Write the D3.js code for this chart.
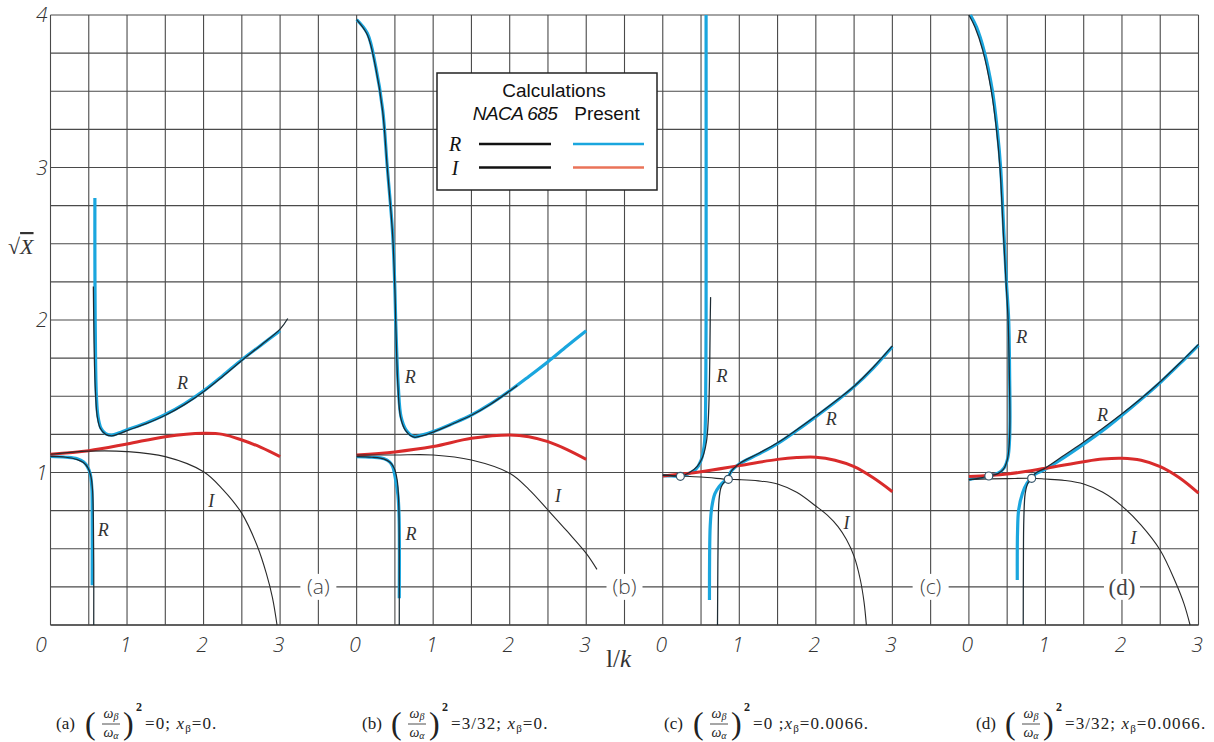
<!DOCTYPE html>
<html>
<head>
<meta charset="utf-8">
<title>sqrt X against 1/k</title>
<script src="https://d3js.org/d3.v7.min.js"></script>
<style>
  body { margin: 0; background: #fff; }
  svg { display: block; }
</style>
</head>
<body>
<svg id="chart"></svg>
<script>
// ---- data: [1/k, sqrt(X)] ----
const panelTags = ["(a)", "(b)", "(c)", "(d)"];
const panelSpan = [4, 4, 4, 3];           // 1/k range shown in each panel
const xTicks = [0, 1, 2, 3];
const yTicks = [1, 2, 3, 4];

// present calculation, R (blue) - several branches per panel
const presentR = [
  [
    [[0.58,2.80],[0.58,2.4],[0.584,2.0],[0.59,1.7],[0.60,1.5],[0.62,1.37],[0.66,1.29],[0.72,1.255],[0.8,1.245],[0.9,1.26],[1.0,1.28],[1.25,1.325],[1.5,1.38],[1.75,1.45],[2.0,1.535],[2.25,1.635],[2.5,1.74],[2.75,1.835],[3.0,1.93]],
    [[0,1.105],[0.2,1.1],[0.35,1.09],[0.43,1.07],[0.48,1.04],[0.52,0.99],[0.54,0.9],[0.545,0.75],[0.545,0.26]]
  ],
  [
    [[0,3.97],[0.14,3.88],[0.25,3.66],[0.34,3.38],[0.40,3.005],[0.47,2.57],[0.50,2.2],[0.51,2.0],[0.545,1.56],[0.58,1.366],[0.645,1.28],[0.75,1.235],[0.85,1.245],[1.0,1.268],[1.25,1.32],[1.5,1.377],[1.75,1.45],[2.0,1.536],[2.25,1.63],[2.5,1.727],[2.75,1.83],[3.0,1.93]],
    [[0,1.104],[0.2,1.1],[0.36,1.09],[0.43,1.07],[0.47,1.04],[0.51,0.95],[0.54,0.85],[0.555,0.7],[0.557,0.175]]
  ],
  [
    [[0,0.98],[0.12,0.978],[0.23,0.975],[0.33,0.99],[0.43,1.02],[0.5,1.08],[0.54,1.17],[0.555,1.3],[0.562,1.6],[0.566,2.0],[0.566,4.0]],
    [[0.857,0.955],[0.80,0.94],[0.74,0.91],[0.68,0.86],[0.64,0.77],[0.62,0.65],[0.612,0.45],[0.61,0.164]],
    [[0.857,0.955],[0.89,1.005],[1.0,1.056],[1.25,1.12],[1.5,1.19],[1.75,1.275],[2.0,1.366],[2.25,1.46],[2.5,1.563],[2.75,1.685],[3.0,1.825]]
  ],
  [
    [[0,0.955],[0.12,0.965],[0.26,0.977],[0.38,0.995],[0.46,1.03],[0.51,1.1],[0.53,1.2],[0.537,1.34],[0.533,1.6],[0.52,2.0],[0.49,2.25],[0.457,2.57],[0.414,3.005],[0.37,3.25],[0.305,3.51],[0.196,3.77],[0.1,3.92],[0.02,4.0]],
    [[0.82,0.962],[0.76,0.93],[0.70,0.864],[0.65,0.754],[0.635,0.6],[0.632,0.45],[0.632,0.295]],
    [[0.82,0.962],[0.87,0.99],[1.0,1.022],[1.25,1.1],[1.5,1.185],[1.75,1.275],[2.0,1.375],[2.25,1.48],[2.5,1.59],[2.75,1.71],[3.0,1.836]]
  ]
];

// present calculation, I (red)
const presentI = [
  [[0,1.12],[0.5,1.143],[1.0,1.187],[1.5,1.235],[2.0,1.257],[2.25,1.25],[2.5,1.213],[2.75,1.165],[3.0,1.104]],
  [[0,1.115],[0.5,1.135],[1.0,1.17],[1.5,1.224],[2.0,1.246],[2.25,1.235],[2.5,1.202],[2.75,1.15],[3.0,1.086]],
  [[0,0.977],[0.5,1.005],[1.0,1.045],[1.5,1.086],[1.75,1.098],[2.0,1.10],[2.25,1.08],[2.5,1.038],[2.75,0.965],[3.0,0.874]],
  [[0,0.973],[0.5,0.99],[1.0,1.028],[1.5,1.071],[1.75,1.088],[2.0,1.093],[2.25,1.08],[2.5,1.038],[2.75,0.965],[3.0,0.864]]
];

// NACA 685, R (black)
const nacaR = [
  [
    [[0.56,2.22],[0.565,2.0],[0.575,1.7],[0.59,1.5],[0.61,1.37],[0.65,1.29],[0.72,1.25],[0.8,1.24],[0.9,1.255],[1.0,1.275],[1.25,1.32],[1.5,1.375],[1.75,1.445],[2.0,1.53],[2.25,1.63],[2.5,1.735],[2.75,1.835],[3.0,1.94],[3.1,2.01]],
    [[0,1.105],[0.2,1.1],[0.35,1.085],[0.43,1.065],[0.49,1.03],[0.53,0.97],[0.55,0.88],[0.56,0.7],[0.565,0.4],[0.565,0]]
  ],
  [
    [[0,3.97],[0.14,3.87],[0.25,3.65],[0.34,3.37],[0.40,3.0],[0.47,2.56],[0.5,2.2],[0.51,2.0],[0.54,1.56],[0.575,1.36],[0.64,1.275],[0.75,1.232],[0.85,1.24],[1.0,1.265],[1.25,1.318],[1.5,1.375],[1.75,1.448],[2.0,1.534],[2.1,1.57]],
    [[0,1.104],[0.2,1.1],[0.36,1.088],[0.44,1.065],[0.49,1.03],[0.53,0.95],[0.55,0.8],[0.557,0.5],[0.557,0]]
  ],
  [
    [[0,0.985],[0.12,0.98],[0.23,0.975],[0.35,1.0],[0.45,1.04],[0.52,1.1],[0.57,1.2],[0.595,1.35],[0.61,1.6],[0.62,2.0],[0.625,2.15]],
    [[0.857,0.955],[0.80,0.935],[0.76,0.9],[0.735,0.82],[0.725,0.65],[0.72,0.4],[0.715,0]],
    [[0.857,0.955],[0.89,1.005],[1.0,1.058],[1.25,1.125],[1.5,1.195],[1.75,1.28],[2.0,1.37],[2.25,1.465],[2.5,1.565],[2.75,1.69],[3.0,1.83]]
  ],
  [
    [[0,0.952],[0.12,0.962],[0.26,0.977],[0.38,0.993],[0.45,1.02],[0.5,1.08],[0.525,1.17],[0.535,1.3],[0.53,1.6],[0.512,2.0],[0.485,2.25],[0.45,2.57],[0.405,3.005],[0.36,3.25],[0.29,3.51],[0.18,3.77],[0.08,3.92],[0,4.0]],
    [[0.82,0.962],[0.77,0.93],[0.735,0.86],[0.718,0.7],[0.712,0.4],[0.71,0]],
    [[0.82,0.962],[0.87,0.995],[1.0,1.03],[1.25,1.115],[1.5,1.2],[1.75,1.29],[2.0,1.385],[2.25,1.485],[2.5,1.595],[2.75,1.715],[3.0,1.84]]
  ]
];

// NACA 685, I (black)
const nacaI = [
  [[0,1.12],[0.5,1.14],[1.0,1.137],[1.5,1.104],[2.0,1.005],[2.25,0.89],[2.5,0.732],[2.7,0.52],[2.82,0.339],[2.9,0.18],[2.96,0]],
  [[0,1.115],[0.5,1.115],[1.0,1.115],[1.5,1.082],[2.0,0.995],[2.25,0.89],[2.5,0.754],[2.75,0.615],[3.0,0.47],[3.14,0.365]],
  [[0,0.98],[0.5,0.97],[0.857,0.955],[1.0,0.953],[1.25,0.945],[1.5,0.925],[1.75,0.87],[2.0,0.78],[2.15,0.72],[2.29,0.645],[2.4,0.56],[2.5,0.45],[2.58,0.3],[2.63,0.15],[2.66,0]],
  [[0,0.955],[0.5,0.96],[0.82,0.962],[1.0,0.957],[1.25,0.948],[1.5,0.925],[1.75,0.87],[2.0,0.78],[2.25,0.655],[2.5,0.49],[2.7,0.28],[2.81,0.14],[2.89,0]]
];

// open circles where branches meet
const meetPoints = [
  [],
  [],
  [[0.23,0.975],[0.857,0.955]],
  [[0.26,0.977],[0.82,0.962]]
];

// curve labels: [text, 1/k, sqrt(X)]
const curveLabels = [
  [["R",1.725,1.587],["R",0.69,0.623],["I",2.10,0.813]],
  [["R",0.70,1.626],["R",0.71,0.597],["I",2.63,0.846]],
  [["R",0.775,1.633],["R",2.20,1.351],["I",2.40,0.669]],
  [["R",0.69,1.889],["R",1.745,1.377],["I",2.15,0.570]]
];
// where the panel tag sits: [1/k, sqrt(X)]
const tagPos = [[3.5,0.25],[3.5,0.25],[3.5,0.25],[2.0,0.25]];

// caption values
const ratioValues = ["0", "3/32", "0", "3/32"];
const xBetaValues = ["0", "0", "0.0066", "0.0066"];
const ratioSep = ["; ", "; ", " ;", "; "];

// legend
const legendRows = ["R", "I"];
const legendNaca = ["#111", "#111"];
const legendPresent = ["#1aa6de", "#ea7358"];

// ---- layout ----
const W = 1214, H = 742;
const blue = "#1aa6de", red = "#d92b2b";

const svg = d3.select("#chart").attr("width", W).attr("height", H);

const totalSpan = d3.sum(panelSpan);
const xAll = d3.scaleLinear().domain([0, totalSpan]).range([50.5, 1198.5]);
const y = d3.scaleLinear().domain([0, 4]).range([625, 15]);
const offsets = panelSpan.map((s, i) => d3.sum(panelSpan.slice(0, i)));

const panels = panelSpan.map((s, i) =>
  d3.scaleLinear().domain([0, s]).range([xAll(offsets[i]), xAll(offsets[i] + s)]));

// ---- grid ----
const grid = svg.append("g").attr("stroke", "#4a4a4a").attr("stroke-width", 1.1);
grid.selectAll("line.h")
  .data(d3.range(0, 4.001, 0.25))
  .join("line")
  .attr("x1", xAll(0)).attr("x2", xAll(totalSpan))
  .attr("y1", d => y(d)).attr("y2", d => y(d));

panels.forEach((xp, i) => {
  grid.append("g").selectAll("line")
    .data(d3.range(0, panelSpan[i], 0.5))
    .join("line")
    .attr("x1", d => xp(d)).attr("x2", d => xp(d))
    .attr("y1", y(0)).attr("y2", y(4));
});
grid.append("line")
  .attr("x1", xAll(totalSpan)).attr("x2", xAll(totalSpan))
  .attr("y1", y(0)).attr("y2", y(4));
grid.append("line")
  .attr("x1", xAll(0)).attr("x2", xAll(totalSpan))
  .attr("y1", y(0)).attr("y2", y(0)).attr("stroke-width", 1.6);

// ---- tick labels via d3 axes ----
const tickFont = "'Open Sans', 'DejaVu Sans', sans-serif";
panels.forEach((xp, i) => {
  const ax = svg.append("g")
    .attr("transform", `translate(0,${y(0)})`)
    .call(d3.axisBottom(xp).tickValues(xTicks).tickSize(0).tickPadding(12).tickFormat(d3.format("d")));
  ax.select(".domain").remove();
  ax.selectAll("text")
    .attr("font-family", tickFont).attr("font-style", "italic").attr("font-weight", 300)
    .attr("font-size", 21).attr("fill", "#333")
    .attr("dx", (d) => (i === 0 && d === 0) ? -10 : -2);
});
const ay = svg.append("g")
  .attr("transform", `translate(${xAll(0)},0)`)
  .call(d3.axisLeft(y).tickValues(yTicks).tickSize(0).tickPadding(3).tickFormat(d3.format("d")));
ay.select(".domain").remove();
ay.selectAll("text")
  .attr("font-family", tickFont).attr("font-style", "italic").attr("font-weight", 300)
  .attr("font-size", 21).attr("fill", "#333");

// axis titles
const yTitle = svg.append("text")
  .attr("x", 8).attr("y", 254)
  .attr("font-family", "'Liberation Serif', serif").attr("font-size", 22).attr("fill", "#333");
yTitle.append("tspan").text("√");
yTitle.append("tspan").attr("font-style", "italic").attr("text-decoration", "overline").text("X");

svg.append("text")
  .attr("x", 606).attr("y", 667)
  .attr("font-family", "'Liberation Serif', serif").attr("font-size", 25).attr("fill", "#333")
  .text("l/")
  .append("tspan").attr("font-style", "italic").text("k");

// ---- panel tags ----
panels.forEach((xp, i) => {
  const [tx, ty] = tagPos[i];
  const g = svg.append("g").attr("transform", `translate(${xp(tx)},${y(ty)})`);
  g.append("rect").attr("x", -18).attr("y", -13).attr("width", 36).attr("height", 26).attr("fill", "#fff");
  g.append("text")
    .attr("text-anchor", "middle").attr("dy", "0.35em")
    .attr("font-family", i === 3 ? "'Liberation Serif', serif" : tickFont)
    .attr("font-weight", i === 3 ? 400 : 300)
    .attr("font-size", i === 3 ? 23 : 21).attr("fill", "#444")
    .text(panelTags[i]);
});

// ---- curves ----
panels.forEach((xp, i) => {
  const line = d3.line()
    .x(d => xp(d[0])).y(d => y(d[1]))
    .curve(d3.curveCatmullRom.alpha(0.5));
  const g = svg.append("g").attr("fill", "none").attr("stroke-linecap", "butt");

  g.selectAll("path.pr").data(presentR[i]).join("path")
    .attr("d", line).attr("stroke", blue).attr("stroke-width", 3.2);
  g.append("path").datum(presentI[i])
    .attr("d", line).attr("stroke", red).attr("stroke-width", 3);
  g.append("path").datum(nacaI[i])
    .attr("d", line).attr("stroke", "#2a2a2a").attr("stroke-width", 1.1);
  g.selectAll("path.nr").data(nacaR[i]).join("path")
    .attr("d", line).attr("stroke", "#1d2b33").attr("stroke-width", 1.25);

  g.selectAll("circle").data(meetPoints[i]).join("circle")
    .attr("cx", d => xp(d[0])).attr("cy", d => y(d[1])).attr("r", 4)
    .attr("fill", "#fff").attr("stroke", "#36556a").attr("stroke-width", 1.2);

  svg.append("g").selectAll("text").data(curveLabels[i]).join("text")
    .attr("x", d => xp(d[1])).attr("y", d => y(d[2]))
    .attr("text-anchor", "middle").attr("dy", "0.35em")
    .attr("font-family", "'Liberation Serif', serif").attr("font-style", "italic")
    .attr("font-size", 18).attr("fill", "#333")
    .text(d => d[0]);
});

// ---- legend ----
const lg = svg.append("g").attr("transform", "translate(437,73)");
lg.append("rect").attr("width", 220).attr("height", 117)
  .attr("fill", "#fff").attr("stroke", "#222").attr("stroke-width", 1.5);
lg.append("text").attr("x", 117).attr("y", 24).attr("text-anchor", "middle")
  .attr("font-family", "'Liberation Sans', Arial, sans-serif").attr("font-size", 19).attr("fill", "#111")
  .text("Calculations");
lg.append("text").attr("x", 78).attr("y", 47).attr("text-anchor", "middle")
  .attr("font-family", "'Liberation Sans', Arial, sans-serif").attr("font-style", "italic")
  .attr("font-size", 19).attr("fill", "#111").attr("letter-spacing", -0.6)
  .text("NACA 685");
lg.append("text").attr("x", 170).attr("y", 47).attr("text-anchor", "middle")
  .attr("font-family", "'Liberation Sans', Arial, sans-serif").attr("font-size", 19).attr("fill", "#111")
  .text("Present");
legendRows.forEach((r, k) => {
  const yy = 71 + k * 23.5;
  lg.append("text").attr("x", 18).attr("y", yy).attr("text-anchor", "middle").attr("dy", "0.35em")
    .attr("font-family", "'Liberation Serif', serif").attr("font-style", "italic")
    .attr("font-size", 20).attr("fill", "#111").text(r);
  lg.append("line").attr("x1", 42).attr("x2", 114).attr("y1", yy).attr("y2", yy)
    .attr("stroke", legendNaca[k]).attr("stroke-width", 2.6);
  lg.append("line").attr("x1", 136).attr("x2", 207).attr("y1", yy).attr("y2", yy)
    .attr("stroke", legendPresent[k]).attr("stroke-width", 2.6);
});

// ---- captions ----
const capX = [56, 362, 664, 976];
const capFont = "'Liberation Serif', 'DejaVu Serif', serif";
panelTags.forEach((tag, i) => {
  const g = svg.append("g").attr("transform", `translate(${capX[i]},0)`)
    .attr("font-family", capFont).attr("fill", "#222");
  g.append("text").attr("x", 0).attr("y", 729).attr("font-size", 17).text(tag);
  g.append("text").attr("x", 29).attr("y", 734).attr("font-size", 32).text("(");
  g.append("text").attr("x", 55).attr("y", 718).attr("text-anchor", "middle").attr("font-size", 14)
    .attr("font-style", "italic").text("ω").append("tspan").attr("font-size", 10).attr("dy", 2).text("β");
  g.append("line").attr("x1", 46).attr("x2", 64).attr("y1", 724).attr("y2", 724).attr("stroke", "#222").attr("stroke-width", 0.8);
  g.append("text").attr("x", 55).attr("y", 737).attr("text-anchor", "middle").attr("font-size", 14)
    .attr("font-style", "italic").text("ω").append("tspan").attr("font-size", 10).attr("dy", 2).text("α");
  g.append("text").attr("x", 67).attr("y", 734).attr("font-size", 32).text(")");
  g.append("text").attr("x", 80).attr("y", 711).attr("font-size", 12).attr("font-weight", "bold").text("2");
  const t = g.append("text").attr("x", 89).attr("y", 729).attr("font-size", 17).attr("letter-spacing", 1.1);
  t.append("tspan").text("=" + ratioValues[i] + ratioSep[i]);
  t.append("tspan").attr("font-style", "italic").text("x");
  t.append("tspan").attr("font-size", 11).attr("dy", 3).text("β");
  t.append("tspan").attr("dy", -3).text("=" + xBetaValues[i] + ".");
});
</script>
</body>
</html>
